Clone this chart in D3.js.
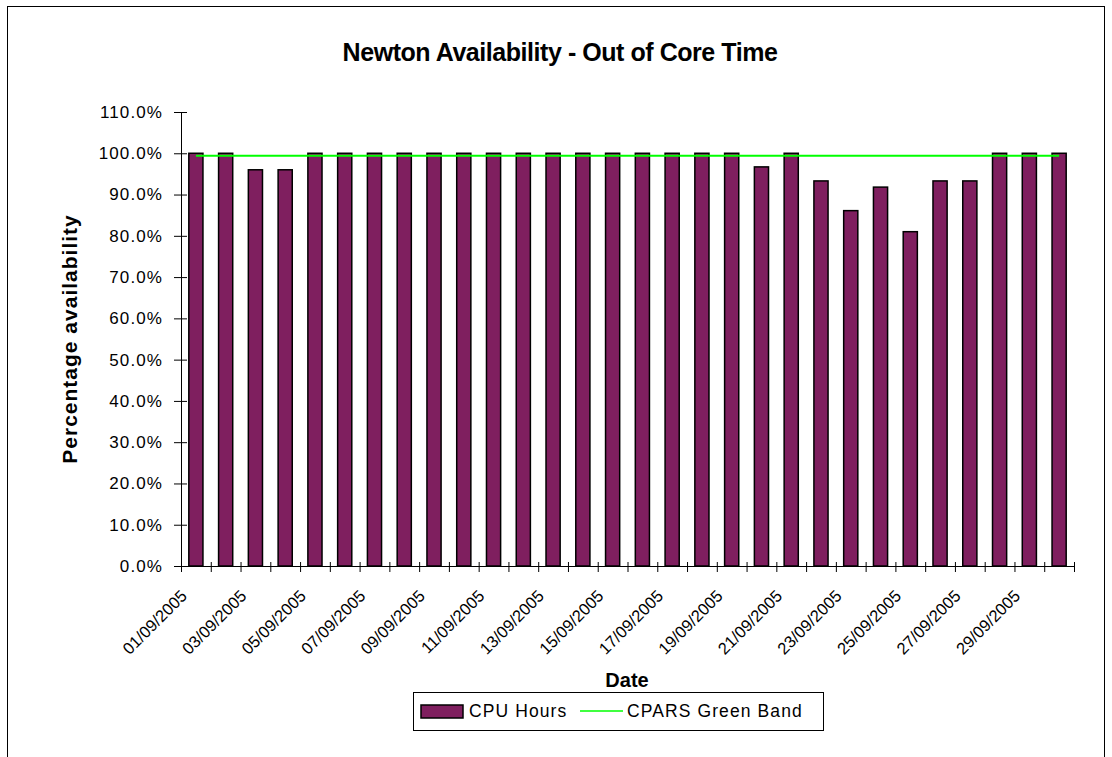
<!DOCTYPE html>
<html>
<head>
<meta charset="utf-8">
<script src="https://cdn.jsdelivr.net/npm/d3@7/dist/d3.min.js"></script>
<style>
  html, body { margin: 0; padding: 0; background: #fff; }
  svg text { font-family: "Liberation Sans", Arial, Helvetica, sans-serif; fill: #000; }
</style>
</head>
<body>
<svg id="chart" width="1112" height="757"></svg>
<script>
const dates = ["01/09/2005","02/09/2005","03/09/2005","04/09/2005","05/09/2005","06/09/2005",
  "07/09/2005","08/09/2005","09/09/2005","10/09/2005","11/09/2005","12/09/2005","13/09/2005",
  "14/09/2005","15/09/2005","16/09/2005","17/09/2005","18/09/2005","19/09/2005","20/09/2005",
  "21/09/2005","22/09/2005","23/09/2005","24/09/2005","25/09/2005","26/09/2005","27/09/2005",
  "28/09/2005","29/09/2005","30/09/2005"];
const cpuHours = [1.000,1.000,0.960,0.960,1.000,1.000,1.000,1.000,1.000,1.000,1.000,1.000,1.000,
  1.000,1.000,1.000,1.000,1.000,1.000,0.967,1.000,0.933,0.861,0.918,0.810,0.933,0.933,1.000,1.000,1.000];
const greenBand = [0.994,0.994,0.994,0.994,0.994,0.994,0.994,0.994,0.994,0.994,0.994,0.994,0.994,
  0.994,0.994,0.994,0.994,0.994,0.994,0.994,0.994,0.994,0.994,0.994,0.994,0.994,0.994,0.994,0.994,0.994];
const xTickLabels = ["01/09/2005","03/09/2005","05/09/2005","07/09/2005","09/09/2005","11/09/2005",
  "13/09/2005","15/09/2005","17/09/2005","19/09/2005","21/09/2005","23/09/2005","25/09/2005",
  "27/09/2005","29/09/2005"];
const yTicks = [0,0.1,0.2,0.3,0.4,0.5,0.6,0.7,0.8,0.9,1.0,1.1];

const title = "Newton Availability - Out of Core Time";
const xTitle = "Date";
const yTitle = "Percentage availability";
const seriesNames = ["CPU Hours","CPARS Green Band"];

const barColor = "#7f1f5f";
const lineColor = "#00ff00";

const svg = d3.select("#chart");
const L = 181, R = 1074, T = 112, B = 566;

// outer frame
svg.append("rect").attr("x", 7.5).attr("y", 6.5).attr("width", 1097).attr("height", 800)
  .attr("fill", "none").attr("stroke", "#000").attr("stroke-width", 1);

const x = d3.scaleBand().domain(dates).range([L, R]).paddingInner(0.525).paddingOuter(0.2625);
const xBound = d3.scaleLinear().domain([0, dates.length]).range([L, R]);
const y = d3.scaleLinear().domain([0, 1.1]).range([B, T]);

// bars
svg.append("g").selectAll("rect").data(dates).join("rect")
  .attr("x", d => x(d))
  .attr("y", (d, i) => y(cpuHours[i]))
  .attr("width", x.bandwidth())
  .attr("height", (d, i) => B - y(cpuHours[i]))
  .attr("fill", barColor).attr("stroke", "#000").attr("stroke-width", 1.5);

// green line
const line = d3.line().x((d, i) => x(dates[i]) + x.bandwidth() / 2).y(d => y(d));
svg.append("path").datum(greenBand).attr("d", line)
  .attr("fill", "none").attr("stroke", lineColor).attr("stroke-width", 2);

// y axis
const yAxis = d3.axisLeft(y).tickValues(yTicks).tickFormat(d3.format(".1%"))
  .tickSizeInner(7).tickSizeOuter(0).tickPadding(11);
const gy = svg.append("g").attr("transform", `translate(${L},0)`).call(yAxis);
gy.selectAll(".tick line").attr("x2", 6).attr("x1", -7).attr("stroke", "#000");
gy.select(".domain").attr("stroke", "#000");
gy.selectAll("text").attr("font-size", "17px").attr("letter-spacing", "1.1px")
  .attr("font-family", "'Liberation Sans', Arial, sans-serif");

// x axis
const xAxis = d3.axisBottom(xBound).tickValues(d3.range(dates.length + 1)).tickFormat("")
  .tickSizeInner(6).tickSizeOuter(0);
const gx = svg.append("g").attr("transform", `translate(0,${B})`).call(xAxis);
gx.selectAll(".tick line").attr("y1", -4).attr("y2", 6).attr("stroke", "#000");
gx.select(".domain").attr("stroke", "#000");

// x tick labels
svg.append("g").selectAll("text").data(xTickLabels).join("text")
  .attr("transform", d => `translate(${x(d) + x.bandwidth() / 2 - 8},${B + 31}) rotate(-45)`)
  .attr("text-anchor", "end")
  .attr("font-size", "16.5px")
  .text(d => d);

// titles
svg.append("text").attr("x", 560).attr("y", 61).attr("text-anchor", "middle")
  .attr("font-size", "25px").attr("font-weight", "bold").attr("letter-spacing", "-0.45px")
  .text(title);
svg.append("text").attr("x", 627).attr("y", 687).attr("text-anchor", "middle")
  .attr("font-size", "20px").attr("font-weight", "bold").text(xTitle);
svg.append("text").attr("transform", `translate(77,${(T + B) / 2}) rotate(-90)`)
  .attr("text-anchor", "middle").attr("font-size", "21px").attr("font-weight", "bold")
  .attr("letter-spacing", "1px").text(yTitle);

// legend
const lg = svg.append("g");
lg.append("rect").attr("x", 413.5).attr("y", 692.5).attr("width", 410).attr("height", 38)
  .attr("fill", "#fff").attr("stroke", "#000").attr("stroke-width", 1);
lg.append("rect").attr("x", 421).attr("y", 705).attr("width", 42).attr("height", 13)
  .attr("fill", barColor).attr("stroke", "#000").attr("stroke-width", 1.5);
lg.append("text").attr("x", 469).attr("y", 717).attr("font-size", "17.5px")
  .attr("letter-spacing", "1.1px").text(seriesNames[0]);
lg.append("line").attr("x1", 580).attr("x2", 623).attr("y1", 711).attr("y2", 711)
  .attr("stroke", lineColor).attr("stroke-width", 1.5);
lg.append("text").attr("x", 627).attr("y", 717).attr("font-size", "17.5px")
  .attr("letter-spacing", "1.1px").text(seriesNames[1]);
</script>
</body>
</html>
